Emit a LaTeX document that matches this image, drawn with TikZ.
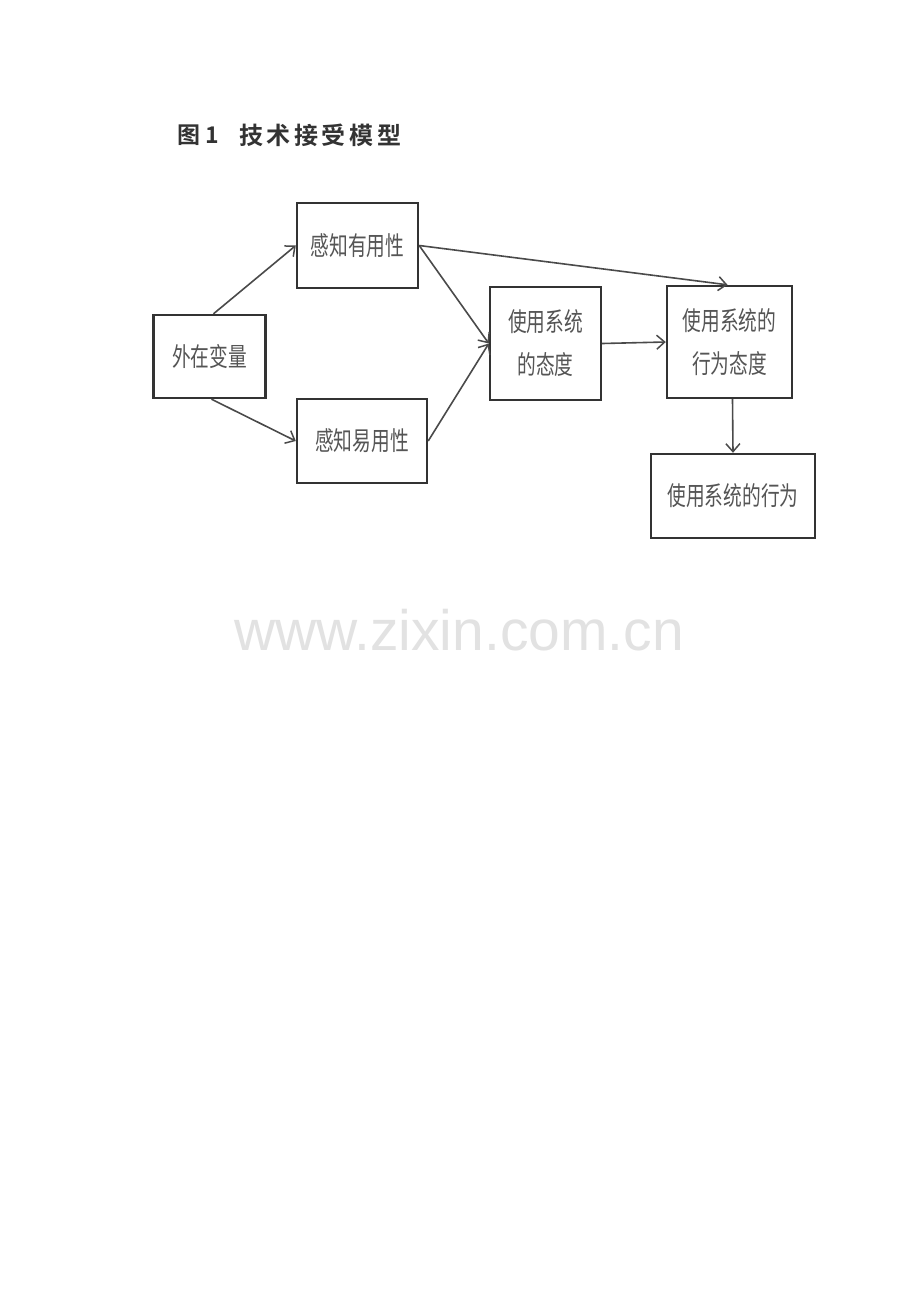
\documentclass[tikz,border=0pt]{standalone}
\usepackage{fontspec}
\newfontfamily\cjk[FakeStretch=0.72]{Noto Sans CJK SC}
\newfontfamily\cjktitle[LetterSpace=15]{Noto Sans CJK SC Bold}
\newfontfamily\cjktitleb{Noto Sans CJK SC Bold}
\usetikzlibrary{arrows.meta,calc}
\definecolor{boxline}{HTML}{333333}
\definecolor{conline}{HTML}{4A4A4A}
\definecolor{txt}{HTML}{555555}
\definecolor{ttl}{HTML}{333333}
\definecolor{wm}{HTML}{E2E2E2}
\begin{document}
\begin{tikzpicture}[x=1pt,y=-1pt,
  box/.style={draw=boxline,line width=2.4pt,fill=white,inner sep=0pt,text=txt,
    font=\cjk\fontsize{26}{43}\selectfont,align=center},
  con/.style={draw=conline,line width=1.6pt,-{Straight Barb[length=8pt,width=14pt,line width=1.5pt]}}]
\useasboundingbox[fill=white] (0,0) rectangle (920,1302);
\node[text=ttl,font=\cjktitleb\fontsize{23}{23}\selectfont] (t1) at (189,135) {图};
\node[text=ttl,font=\cjktitleb\fontsize{23}{23}\selectfont] (t2) at (212,135) {1};
\node[text=ttl,font=\cjktitle\fontsize{24}{24}\selectfont,anchor=west,inner sep=0pt] (t3) at (239,135) {技术接受模型};
\node[box,minimum width=112pt,minimum height=83pt] (ext) at (209.5,356.5) {外在变量};
\node[box,minimum width=121pt,minimum height=85pt] (pu) at (357.5,245.5) {感知有用性};
\node[box,minimum width=130pt,minimum height=84pt] (peou) at (362,441) {感知易用性};
\node[box,minimum width=111pt,minimum height=113pt] (att) at (545.5,343.5) {使用系统\\的态度};
\node[box,minimum width=125pt,minimum height=112pt] (bi) at (729.5,342) {使用系统的\\行为态度};
\node[box,minimum width=164pt,minimum height=84pt] (beh) at (733,496) {使用系统的行为};
\draw[con] ($(ext.north)+(4,0)$) -- (pu.west);
\draw[con] ($(ext.south)+(2,0)$) -- (peou.west);
\draw[con] (pu.east) -- (att.west);
\draw[con] (peou.east) -- (att.west);
\draw[con] (pu.east) -- ($(bi.north)+(-2,0)$);
\draw[con] (att.east) -- (bi.west);
\draw[con] ($(bi.south)+(3,0)$) -- ($(beh.north)+(0,0)$);
\node[text=wm,font=\fontspec{Liberation Sans}\fontsize{57}{57}\selectfont,anchor=base] (wmk) at (459,650) {www.zixin.com.cn};
\end{tikzpicture}
\end{document}
